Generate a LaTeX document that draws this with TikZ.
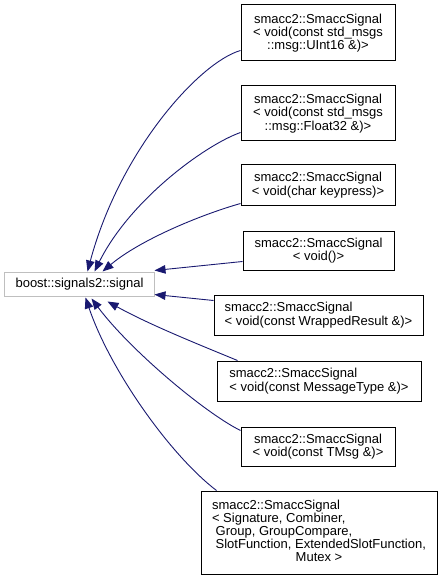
\documentclass[tikz,border=0pt]{standalone}
\usepackage{fontspec}
\setmainfont{Liberation Sans}
\usetikzlibrary{arrows.meta}
\definecolor{edgeblue}{HTML}{191970}
\definecolor{basegray}{HTML}{BFBFBF}
\begin{document}
\begin{tikzpicture}[x=1bp,y=-1bp,
  lbl/.style={font=\fontsize{13bp}{13.3bp}\selectfont, inner sep=0pt, align=center},
  cls/.style={lbl, draw=black, line width=1bp, fill=white},
  basecls/.style={lbl, draw=basegray, line width=1bp, fill=white},
  inh/.style={draw=edgeblue, line width=0.9bp, -{Triangle[length=11bp,width=8.5bp]}}]
\useasboundingbox (0,0) rectangle (441,583);

\node[basecls, minimum width=149bp, minimum height=24bp] (base) at (79.5,284) {boost::signals2::signal};

\node[cls, minimum width=154bp, minimum height=56bp] (s1) at (318,33)
  {smacc2::SmaccSignal\\< void(const std\_msgs\\::msg::UInt16 \&)>};
\node[cls, minimum width=154bp, minimum height=55bp] (s2) at (318,113.5)
  {smacc2::SmaccSignal\\< void(const std\_msgs\\::msg::Float32 \&)>};
\node[cls, minimum width=154bp, minimum height=40bp] (s3) at (318,185)
  {smacc2::SmaccSignal\\< void(char keypress)>};
\node[cls, minimum width=151bp, minimum height=39bp] (s4) at (318.5,250.5)
  {smacc2::SmaccSignal\\< void()>};
\node[cls, minimum width=209bp, minimum height=40bp, align=left] (s5) at (318.5,315)
  {smacc2::SmaccSignal\\< void(const WrappedResult \&)>};
\node[cls, minimum width=204bp, minimum height=40bp, align=left] (s6) at (319,381)
  {smacc2::SmaccSignal\\< void(const MessageType \&)>};
\node[cls, minimum width=154bp, minimum height=39bp] (s7) at (318,446.5)
  {smacc2::SmaccSignal\\< void(const TMsg \&)>};
\node[cls, minimum width=236bp, minimum height=83bp] (s8) at (319,532.5)
  {\renewcommand{\arraystretch}{0.93}\begin{tabular}{@{}l@{}}smacc2::SmaccSignal\\< Signature, Combiner,\\ \ Group, GroupCompare,\\ \ SlotFunction, ExtendedSlotFunction,\\\multicolumn{1}{@{}c@{}}{Mutex >}\end{tabular}};

\coordinate (t1) at ([xshift=8bp]base.north);
\coordinate (t2) at ([xshift=15bp]base.north);
\coordinate (t3) at ([xshift=23bp]base.north);
\coordinate (b6) at ([xshift=28bp,yshift=-5bp]base.south);
\coordinate (b7) at ([xshift=12bp,yshift=-2bp]base.south);
\coordinate (b8) at ([xshift=6bp,yshift=-1bp]base.south);

\draw[inh] ([yshift=11bp]s1.south west) .. controls (200,62) and (120,150) .. (t1);
\draw[inh] ([yshift=9bp]s2.south west) .. controls (205,145) and (130,200) .. (t2);
\draw[inh] ([yshift=2bp]s3.south west) .. controls (200,215) and (140,240) .. (t3);
\draw[inh] ([yshift=9bp]s4.south west) -- ([yshift=1bp]base.north east);
\draw[inh] ([yshift=-6bp]s5.north west) -- ([yshift=2bp]base.south east);
\draw[inh] ([xshift=21bp]s6.north west) .. controls (200,345) and (150,325) .. (b6);
\draw[inh] ([yshift=-4bp]s7.north west) .. controls (205,413) and (130,350) .. (b7);
\draw[inh] ([xshift=16bp]s8.north west) .. controls (170,455) and (110,370) .. (b8);
\end{tikzpicture}
\end{document}
